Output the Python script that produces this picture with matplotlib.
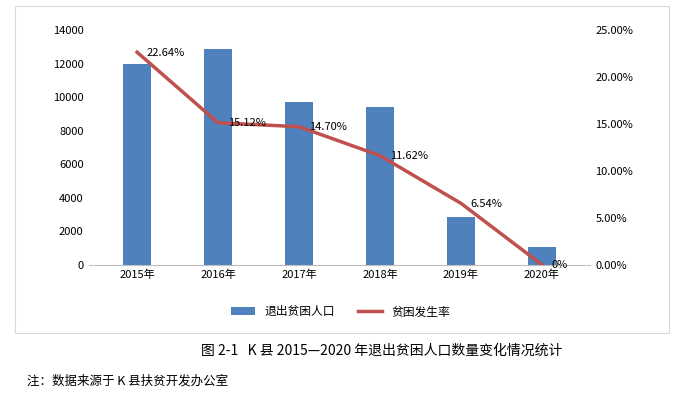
import matplotlib
matplotlib.use("Agg")
import matplotlib.pyplot as plt
from matplotlib.ticker import FuncFormatter
from matplotlib.patches import Rectangle

plt.rcParams['font.family'] = ['Noto Sans CJK SC']

years = ["2015年", "2016年", "2017年", "2018年", "2019年", "2020年"]
exits = [12000, 12900, 9700, 9400, 2850, 1050]
rates = [22.64, 15.12, 14.70, 11.62, 6.54, 0.0]
rate_labels = ["22.64%", "15.12%", "14.70%", "11.62%", "6.54%", "0%"]

fig = plt.figure(figsize=(6.81, 4.01), dpi=100)
fig.patches.append(Rectangle((0.022, 0.17), 0.96, 0.815, transform=fig.transFigure,
                             fill=False, edgecolor='#D9D9D9', lw=0.8))
ax = fig.add_axes([0.13, 0.34, 0.737, 0.585])
x = list(range(len(years)))
ax.bar(x, exits, width=0.35, color='#4F81BD', label='退出贫困人口')
ax.set_ylim(0, 14000)
ax.set_yticks(range(0, 14001, 2000))
ax.set_xlim(-0.6, 5.6)
ax.set_xticks(x)
ax.set_xticklabels(years)
ax.tick_params(length=0, labelsize=8)
for s in ['top', 'right', 'left']:
    ax.spines[s].set_visible(False)
ax.spines['bottom'].set_color('#BFBFBF')

ax2 = ax.twinx()
ax2.plot(x, rates, color='#C0504D', lw=2.5, label='贫困发生率')
ax2.set_ylim(0, 25)
ax2.set_yticks([0, 5, 10, 15, 20, 25])
ax2.yaxis.set_major_formatter(FuncFormatter(lambda v, p: f"{v:.2f}%"))
ax2.tick_params(length=0, labelsize=8)
for s in ['top', 'right', 'left', 'bottom']:
    ax2.spines[s].set_visible(False)
for xi, r, t in zip(x, rates, rate_labels):
    ax2.annotate(t, (xi, r), xytext=(7, -4), textcoords='offset points', fontsize=8,
                 va='bottom')

h1, l1 = ax.get_legend_handles_labels()
h2, l2 = ax2.get_legend_handles_labels()
fig.legend(h1 + h2, l1 + l2, loc='center', bbox_to_anchor=(0.5, 0.222), ncol=2,
           frameon=False, fontsize=8.5)

fig.text(0.56, 0.115, "图 2-1   K 县 2015—2020 年退出贫困人口数量变化情况统计",
         ha='center', fontsize=10)
fig.text(0.04, 0.04, "注：数据来源于 K 县扶贫开发办公室", fontsize=9)
fig.savefig("out.png", dpi=100)
